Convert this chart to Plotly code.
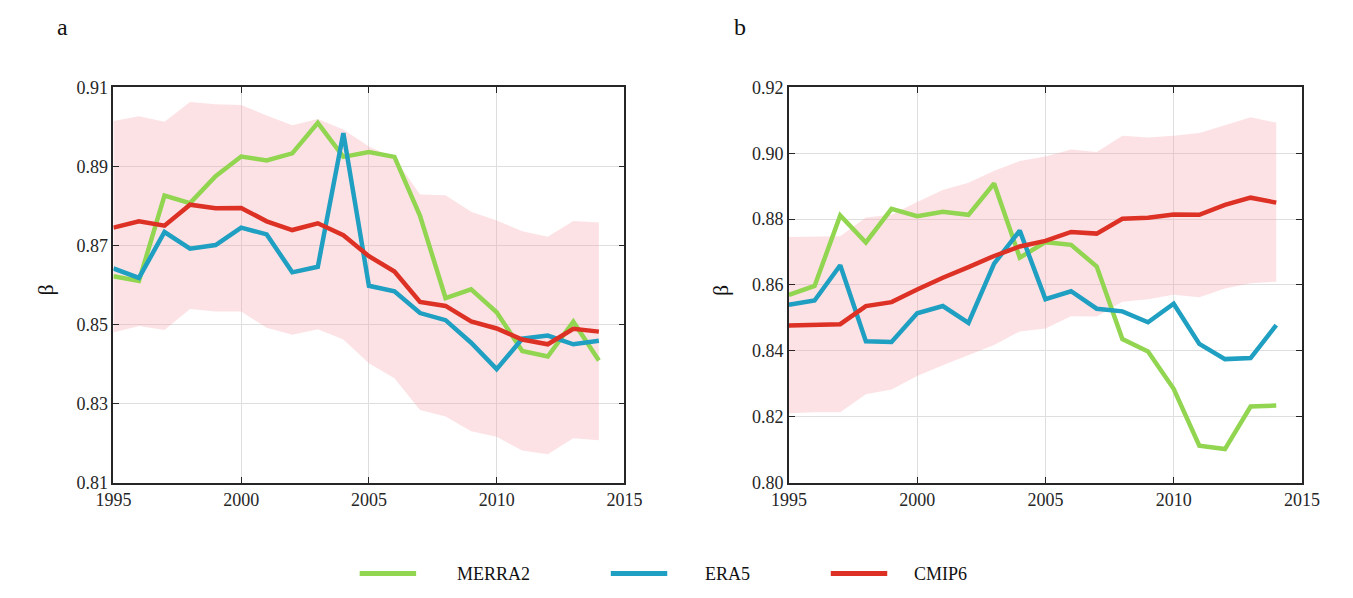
import plotly.graph_objects as go

years = list(range(1995, 2015))

# Panel a
a_merra2 = [0.8622, 0.8610, 0.8826, 0.8807, 0.8875, 0.8925, 0.8915, 0.8933, 0.9010, 0.8924,
            0.8936, 0.8924, 0.8775, 0.8567, 0.8589, 0.8531, 0.8433, 0.8419, 0.8507, 0.8409]
a_era5 = [0.8642, 0.8618, 0.8734, 0.8692, 0.8701, 0.8745, 0.8728, 0.8632, 0.8646, 0.8984,
          0.8598, 0.8584, 0.8529, 0.8511, 0.8454, 0.8387, 0.8464, 0.8472, 0.8450, 0.8459]
a_cmip6 = [0.8745, 0.8761, 0.8750, 0.8803, 0.8794, 0.8795, 0.8761, 0.8739, 0.8756, 0.8726,
           0.8673, 0.8634, 0.8557, 0.8547, 0.8508, 0.8490, 0.8462, 0.8450, 0.8489, 0.8482]
a_upper = [0.9015, 0.9027, 0.9013, 0.9063, 0.9057, 0.9055, 0.9029, 0.9004, 0.9020, 0.8993,
           0.8950, 0.8921, 0.8829, 0.8827, 0.8785, 0.8763, 0.8736, 0.8722, 0.8762, 0.8758]
a_lower = [0.8480, 0.8496, 0.8486, 0.8539, 0.8533, 0.8533, 0.8492, 0.8474, 0.8488, 0.8462,
           0.8402, 0.8364, 0.8284, 0.8267, 0.8230, 0.8216, 0.8181, 0.8172, 0.8212, 0.8207]

# Panel b
b_merra2 = [0.8570, 0.8597, 0.8811, 0.8729, 0.8831, 0.8809, 0.8822, 0.8813, 0.8908, 0.8683,
            0.8730, 0.8722, 0.8656, 0.8436, 0.8398, 0.8285, 0.8112, 0.8102, 0.8231, 0.8234]
b_era5 = [0.8540, 0.8553, 0.8660, 0.8429, 0.8427, 0.8514, 0.8536, 0.8485, 0.8665, 0.8765,
          0.8557, 0.8581, 0.8528, 0.8520, 0.8487, 0.8543, 0.8421, 0.8375, 0.8378, 0.8478]
b_cmip6 = [0.8477, 0.8479, 0.8481, 0.8536, 0.8548, 0.8586, 0.8622, 0.8654, 0.8688, 0.8717,
           0.8734, 0.8761, 0.8756, 0.8801, 0.8804, 0.8814, 0.8813, 0.8843, 0.8865, 0.8850]
b_upper = [0.8746, 0.8746, 0.8748, 0.8805, 0.8813, 0.8852, 0.8888, 0.8910, 0.8947, 0.8976,
           0.8990, 0.9011, 0.9004, 0.9053, 0.9048, 0.9053, 0.9061, 0.9085, 0.9109, 0.9093]
b_lower = [0.8211, 0.8214, 0.8214, 0.8268, 0.8283, 0.8324, 0.8356, 0.8388, 0.8418, 0.8459,
           0.8468, 0.8505, 0.8504, 0.8549, 0.8557, 0.8570, 0.8563, 0.8589, 0.8605, 0.8610]

series_names = ["MERRA2", "ERA5", "CMIP6"]
colors = {"MERRA2": "#92d551", "ERA5": "#1f9fc1", "CMIP6": "#dc3124"}
band_color = "rgba(250,160,170,0.30)"

x_ticks = [1995, 2000, 2005, 2010, 2015]
a_yticks = [0.81, 0.83, 0.85, 0.87, 0.89, 0.91]
b_yticks = [0.80, 0.82, 0.84, 0.86, 0.88, 0.90, 0.92]

FONT = "Liberation Serif"
W, H = 1353, 598

fig = go.Figure()

panels = [
    ("x", "y", a_upper, a_lower, {"MERRA2": a_merra2, "ERA5": a_era5, "CMIP6": a_cmip6}),
    ("x2", "y2", b_upper, b_lower, {"MERRA2": b_merra2, "ERA5": b_era5, "CMIP6": b_cmip6}),
]
for xa, ya, up, lo, ser in panels:
    fig.add_trace(go.Scatter(x=years, y=up, mode="lines", line=dict(width=0),
                             hoverinfo="skip", showlegend=False, xaxis=xa, yaxis=ya))
    fig.add_trace(go.Scatter(x=years, y=lo, mode="lines", line=dict(width=0),
                             fill="tonexty", fillcolor=band_color,
                             hoverinfo="skip", showlegend=False, xaxis=xa, yaxis=ya))
    for name in series_names:
        fig.add_trace(go.Scatter(x=years, y=ser[name], mode="lines", name=name,
                                 line=dict(color=colors[name], width=4.5),
                                 showlegend=False, xaxis=xa, yaxis=ya))

axis_common = dict(
    showline=True, linecolor="#262626", linewidth=1.5, mirror="ticks",
    ticks="inside", ticklen=6, tickwidth=1.2, tickcolor="#262626",
    showgrid=True, gridcolor="#dedede", gridwidth=1, zeroline=False,
    tickfont=dict(family=FONT, size=18, color="#262626"),
)

xa_dom = [98 / W, 623 / W]
xb_dom = [792 / W, 1319 / W]
y_dom = [1 - 489 / H, 1 - 80 / H]

fig.update_layout(
    width=W, height=H,
    margin=dict(l=0, r=0, t=0, b=0),
    paper_bgcolor="white", plot_bgcolor="white",
    font=dict(family=FONT, size=18, color="#1a1a1a"),
    xaxis=dict(domain=xa_dom, range=[1995, 2015], tickvals=x_ticks, anchor="y", **axis_common),
    yaxis=dict(domain=y_dom, range=[0.81, 0.91], tickvals=a_yticks, tickformat=".2f",
               anchor="x", **axis_common),
    xaxis2=dict(domain=xb_dom, range=[1995, 2015], tickvals=x_ticks, anchor="y2", **axis_common),
    yaxis2=dict(domain=y_dom, range=[0.80, 0.92], tickvals=b_yticks, tickformat=".2f",
                anchor="x2", **axis_common),
    showlegend=False,
)

annotations = [
    dict(text="a", x=46 / W, y=1 - 18 / H, xref="paper", yref="paper", showarrow=False,
         xanchor="center", yanchor="middle", font=dict(family=FONT, size=24, color="#111")),
    dict(text="b", x=742 / W, y=1 - 18 / H, xref="paper", yref="paper", showarrow=False,
         xanchor="center", yanchor="middle", font=dict(family=FONT, size=24, color="#111")),
    dict(text="β", x=28 / W, y=1 - 290 / H, xref="paper", yref="paper", showarrow=False,
         xanchor="center", yanchor="middle",
         textangle=-90, font=dict(family=FONT, size=22, color="#111")),
    dict(text="β", x=722 / W, y=1 - 290 / H, xref="paper", yref="paper", showarrow=False,
         xanchor="center", yanchor="middle",
         textangle=-90, font=dict(family=FONT, size=22, color="#111")),
]

# Manual legend (key line + label) at the bottom
legend_layout = [("MERRA2", 351, 449), ("ERA5", 609, 704), ("CMIP6", 835, 918)]
shapes = []
ly = 1 - 583 / H
for name, lx, tx in legend_layout:
    shapes.append(dict(type="line", xref="paper", yref="paper",
                       x0=lx / W, x1=(lx + 58) / W, y0=ly, y1=ly,
                       line=dict(color=colors[name], width=5)))
    annotations.append(dict(text=name, x=tx / W, y=ly, xref="paper", yref="paper",
                            xanchor="left", yanchor="middle", showarrow=False,
                            font=dict(family=FONT, size=18, color="#111")))

fig.update_layout(annotations=annotations, shapes=shapes)

fig.write_html("out.html")
